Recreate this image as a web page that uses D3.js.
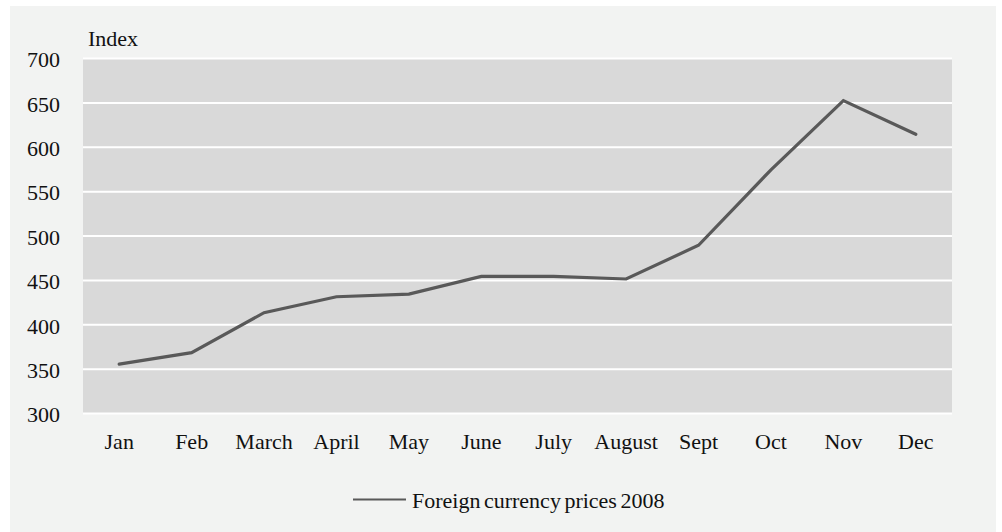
<!DOCTYPE html>
<html><head><meta charset="utf-8">
<script src="https://cdn.jsdelivr.net/npm/d3@7"></script>
<style>html,body{margin:0;padding:0;background:#fff;}svg{display:block;}</style>
</head><body>
<svg id="chart" width="1002" height="532"></svg>
<script>
const categories = ["Jan","Feb","March","April","May","June","July","August","Sept","Oct","Nov","Dec"];
const values = [355, 368, 413, 431, 434, 454, 454, 451, 489, 574, 652, 614];
const yTicks = [300, 350, 400, 450, 500, 550, 600, 650, 700];
const seriesName = "Foreign currency prices 2008";
const yTitle = "Index";

const svg = d3.select("#chart");
const W = 1002, H = 532;
const m = {left: 83, right: 50, top: 58, bottom: 119};
const font = "'Liberation Serif','Times New Roman',serif";
const fs = 22;

svg.append("rect").attr("x", 10).attr("y", 6).attr("width", 986).attr("height", 526).attr("fill", "#f2f3f2");

const x = d3.scaleBand().domain(categories).range([m.left, W - m.right]);
const y = d3.scaleLinear().domain([300, 700]).range([H - m.bottom, m.top]);

svg.append("rect").attr("x", m.left).attr("y", m.top)
  .attr("width", W - m.right - m.left).attr("height", H - m.bottom - m.top).attr("fill", "#d9d9d9");

const gy = svg.append("g").attr("transform", `translate(${m.left},0)`)
  .call(d3.axisLeft(y).tickValues(yTicks).tickSize(-(W - m.right - m.left)).tickPadding(23));
gy.select(".domain").remove();
gy.selectAll(".tick line").attr("stroke", "#ffffff").attr("stroke-width", 2);
gy.selectAll(".tick text").attr("font-family", font).attr("font-size", fs).attr("fill", "#111").attr("dy", "0.4em");

const gx = svg.append("g").attr("transform", `translate(0,${H - m.bottom})`)
  .call(d3.axisBottom(x).tickSize(0).tickPadding(20));
gx.select(".domain").remove();
gx.selectAll(".tick text").attr("font-family", font).attr("font-size", fs).attr("fill", "#111");

svg.append("text").attr("x", 88).attr("y", 46).text(yTitle)
  .attr("font-family", font).attr("font-size", fs).attr("fill", "#111");

const line = d3.line().x((d, i) => x(categories[i]) + x.bandwidth() / 2).y(d => y(d));
svg.append("path").datum(values).attr("d", line)
  .attr("fill", "none").attr("stroke", "#595959").attr("stroke-width", 3.2)
  .attr("stroke-linejoin", "miter").attr("stroke-linecap", "round");

const lg = svg.append("g");
lg.append("line").attr("x1", 353).attr("x2", 406).attr("y1", 499.5).attr("y2", 499.5)
  .attr("stroke", "#595959").attr("stroke-width", 2);
lg.append("text").attr("x", 412).attr("y", 507.5).text(seriesName)
  .attr("font-family", font).attr("font-size", fs).attr("fill", "#111").attr("word-spacing", "-2");
</script>
</body></html>
